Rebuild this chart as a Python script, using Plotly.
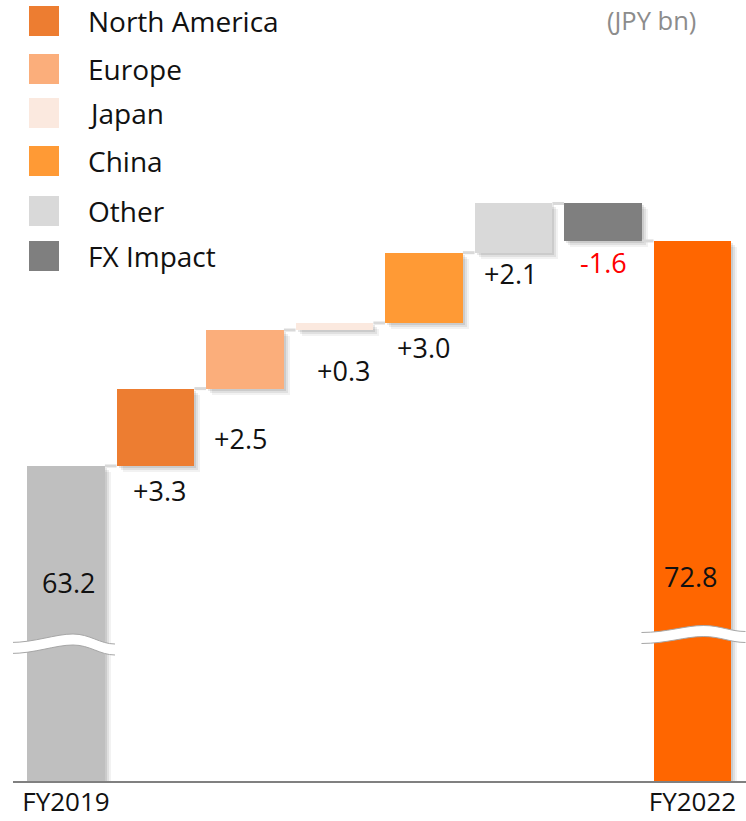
import plotly.graph_objects as go

# ---- data -----------------------------------------------------------------
categories = ["FY2019", "North America", "Europe", "Japan", "China",
              "Other", "FX Impact", "FY2022"]
start_value = 63.2
changes = [3.3, 2.5, 0.3, 3.0, 2.1, -1.6]
end_value = 72.8
tick_labels = ["FY2019", "FY2022"]
unit_label = "(JPY bn)"
legend_names = categories[1:7]

# ---- style ----------------------------------------------------------------
colors = ["#bfbfbf", "#ed7d31", "#fbae7b", "#fbe9df", "#ff9a35",
          "#d9d9d9", "#7f7f7f", "#ff6600"]
FONT = "Open Sans, Noto Sans, sans-serif"
TEXT = "#111111"

W, H = 746, 821
ML, MR, MT, MB = 13, 0, 0, 40
PW, PH = W - ML - MR, H - MT - MB
X_RANGE = [-0.592, 7.598]
Y_RANGE = [49.76, 83.08]          # axis is broken: it starts well above zero
BAR_W = 0.87
PX_X = PW / (X_RANGE[1] - X_RANGE[0])   # pixels per category
PX_Y = PH / (Y_RANGE[1] - Y_RANGE[0])   # pixels per JPY bn

# ---- waterfall geometry -----------------------------------------------------
xpos = list(range(len(categories)))
bases = [Y_RANGE[0]]
heights = [start_value - Y_RANGE[0]]
levels = [start_value]
level = start_value
for c in changes:
    bases.append(min(level, level + c))
    heights.append(abs(c))
    level = round(level + c, 6)
    levels.append(level)
bases.append(Y_RANGE[0])
heights.append(end_value - Y_RANGE[0])

fig = go.Figure()

# soft drop shadow: a few translucent copies nudged right/down
for d, a in [(6, 0.05), (4, 0.07), (2, 0.09)]:
    fig.add_trace(go.Bar(
        x=xpos, y=heights, base=[b - d / PX_Y for b in bases],
        width=BAR_W, offset=-BAR_W / 2 + d / PX_X,
        marker=dict(color=f"rgba(0,0,0,{a})", line=dict(width=0)),
        hoverinfo="skip", showlegend=False))

# connector lines between consecutive bars
cx, cy = [], []
for i, lv in enumerate(levels):
    cx += [i + BAR_W / 2, i + 1 - BAR_W / 2, None]
    cy += [lv, lv, None]
fig.add_trace(go.Scatter(x=cx, y=cy, mode="lines",
                         line=dict(color="#d9d9d9", width=3),
                         hoverinfo="skip", showlegend=False))

# the bars themselves
fig.add_trace(go.Bar(
    x=xpos, y=heights, base=bases, width=BAR_W,
    marker=dict(color=colors, line=dict(width=0)),
    showlegend=False))

# ---- value labels -------------------------------------------------------------
annotations = []
# totals: written inside the bars
total_shift = {0: (3, -117), 7: (-2, -336)}
for i, v in [(0, start_value), (7, end_value)]:
    dx, dy = total_shift[i]
    annotations.append(dict(x=i, y=v, xref="x", yref="y", text=f"{v:.1f}",
                            xanchor="center", yanchor="middle",
                            showarrow=False, xshift=dx, yshift=dy,
                            font=dict(family=FONT, size=27, color=TEXT)))
# deltas: written under each floating bar
delta_shift = [(4, -25), (-4, -50), (9, -40), (0, -25), (-3, -21), (1, -22)]
for k, c in enumerate(changes):
    i = k + 1
    bottom = bases[i]
    dx, dy = delta_shift[k]
    annotations.append(dict(
        x=i, y=bottom, xref="x", yref="y",
        text=f"{c:+.1f}" if c > 0 else f"{c:.1f}",
        xanchor="center", yanchor="middle",
        showarrow=False, xshift=dx, yshift=dy,
        font=dict(family=FONT, size=27, color=TEXT if c > 0 else "#ff0000")))


def px(xp):
    return (xp - ML) / PW


def py(yp):
    return (PH - yp) / PH


# unit label, top right
annotations.append(dict(x=px(651), y=py(20), xref="paper", yref="paper",
                        xanchor="center", yanchor="middle",
                        text=unit_label, showarrow=False,
                        font=dict(family=FONT, size=25.5, color="#8c8c8c")))

# ---- hand-placed legend ---------------------------------------------------------
shapes = []
legend_rows = [21, 69, 113, 161, 211, 256]

for name, col, yc in zip(legend_names, colors[1:7], legend_rows):
    shapes.append(dict(type="rect", xref="paper", yref="paper",
                       x0=px(29), x1=px(59), y0=py(yc + 15), y1=py(yc - 15),
                       fillcolor=col, line=dict(width=0)))
    annotations.append(dict(x=px(86), y=py(yc), xref="paper", yref="paper",
                            xanchor="left", yanchor="middle", text=name,
                            showarrow=False,
                            font=dict(family=FONT, size=28, color=TEXT)))

# ---- axis-break marks across the two total bars ------------------------------------
def wave_path(dl, crest, dr, half):
    # centre line: left end -> crest -> right end (pixel offsets from anchor)
    (x0, y0), (xc, yc), (x1, y1) = dl, crest, dr
    top = (f"M{x0},{y0 + half} "
           f"C{x0 + 25},{y0 + half} {xc - 18},{yc + half} {xc},{yc + half} "
           f"C{xc + 17},{yc + half} {x1 - 15},{y1 + half} {x1},{y1 + half}")
    bot = (f"M{x0},{y0 - half} "
           f"C{x0 + 25},{y0 - half} {xc - 18},{yc - half} {xc},{yc - half} "
           f"C{xc + 17},{yc - half} {x1 - 15},{y1 - half} {x1},{y1 - half}")
    band = (top + f" L{x1},{y1 - half} "
            f"C{x1 - 15},{y1 - half} {xc + 17},{yc - half} {xc},{yc - half} "
            f"C{xc - 18},{yc - half} {x0 + 25},{y0 - half} {x0},{y0 - half} Z")
    return band, top, bot


breaks = [(0, (-56, 133), (7, 141.5), (49, 131.5)),
          (7, (-51, 143), (11, 150), (53, 144))]
for i, l, c, r in breaks:
    band, top, bot = wave_path(l, c, r, 5.5)
    common = dict(xref="x", yref="y", xsizemode="pixel", ysizemode="pixel",
                  xanchor=i, yanchor=Y_RANGE[0])
    shapes.append(dict(type="path", path=band, fillcolor="white",
                       line=dict(width=0), **common))
    for p in (top, bot):
        shapes.append(dict(type="path", path=p,
                           line=dict(color="#a6a6a6", width=1), **common))

fig.update_layout(
    width=W, height=H,
    margin=dict(l=ML, r=MR, t=MT, b=MB, autoexpand=False),
    paper_bgcolor="white", plot_bgcolor="white",
    barmode="overlay", bargap=0,
    showlegend=False,
    annotations=annotations, shapes=shapes,
    font=dict(family=FONT, color=TEXT),
    xaxis=dict(range=X_RANGE, tickmode="array", tickvals=[0, 7],
               ticktext=tick_labels, showgrid=False, zeroline=False,
               showline=True, linecolor="#808080", linewidth=2,
               ticks="", tickfont=dict(family=FONT, size=26, color=TEXT),
               ticklabelstandoff=-3,
               automargin=False, fixedrange=True),
    yaxis=dict(range=Y_RANGE, visible=False, showgrid=False,
               zeroline=False, automargin=False, fixedrange=True),
)

fig.write_html("out.html")
